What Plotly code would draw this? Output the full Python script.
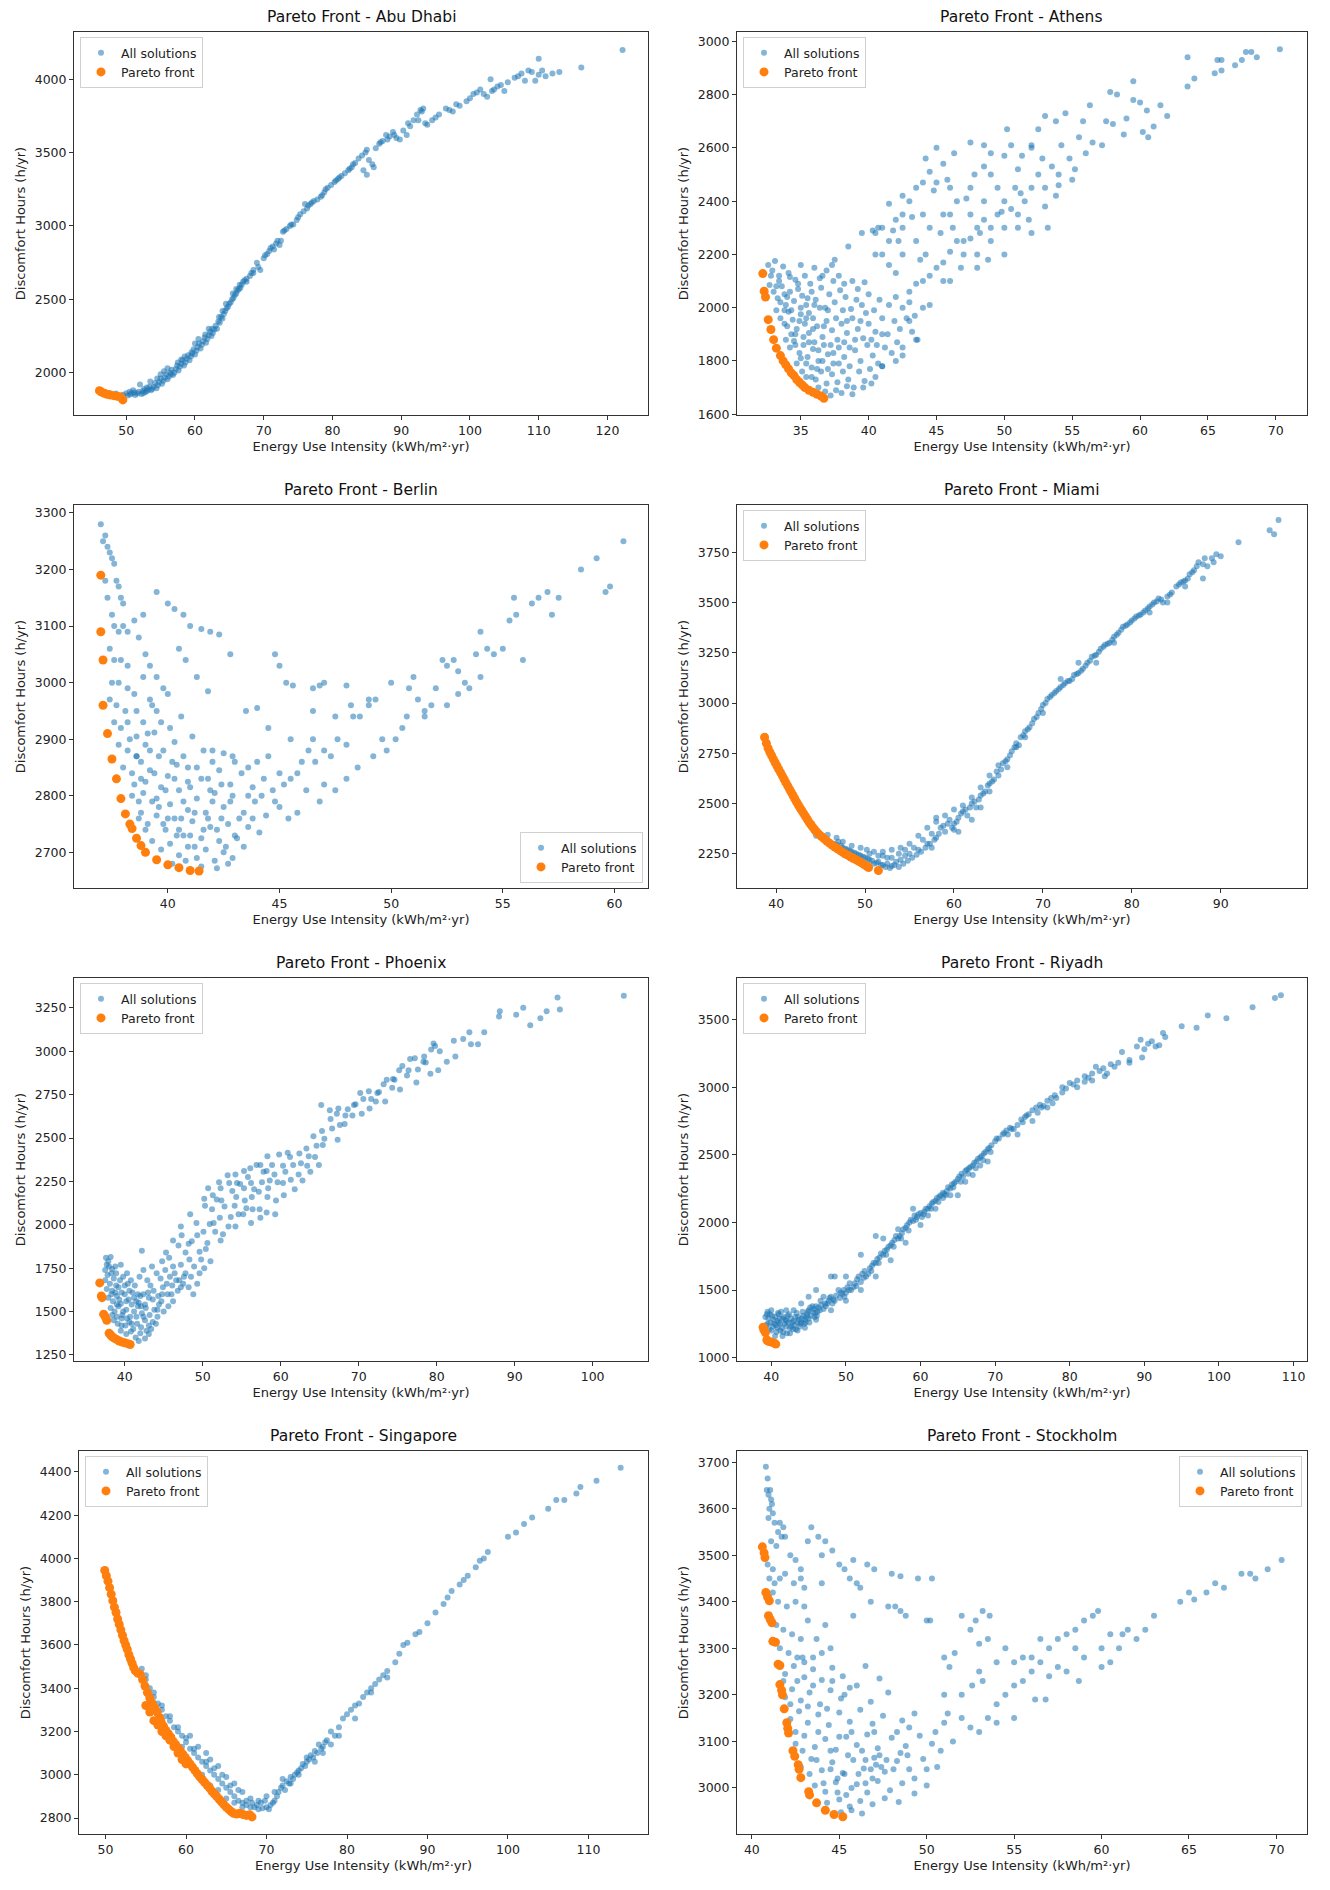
import plotly.graph_objects as go

# ---------------- DATA ----------------
cities = ["Abu Dhabi", "Athens", "Berlin", "Miami", "Phoenix", "Riyadh", "Singapore", "Stockholm"]

abu_dhabi_all = [
    (46.5,1872),(47.5,1862),(48.5,1858),(49.5,1850),(50.2,1845),(50.8,1860),(51.3,1848),(51.8,1870),(52.2,1855),(52.6,1890),
    (53.0,1875),(53.4,1905),(53.8,1890),(54.2,1930),(54.6,1915),(55.0,1960),(55.4,1945),(55.8,1990),(56.2,1975),(56.6,2020),
    (57.0,2000),(57.4,2050),(57.8,2040),(58.2,2085),(58.6,2070),(59.0,2120),(59.4,2110),(59.8,2160),(60.2,2150),(60.6,2200),
    (61.0,2190),(61.4,2240),(61.8,2230),(62.2,2280),(62.6,2270),(63.0,2320),(63.4,2350),(63.8,2380),(64.2,2400),(64.6,2440),
    (65.0,2470),(65.4,2500),(65.8,2530),(66.2,2560),(66.6,2580),(67.0,2620),(67.5,2640),(68.0,2660),(68.5,2700),(69.0,2750),
    (69.5,2700),(70.2,2800),(70.8,2830),(71.3,2860),(71.8,2880),(72.3,2870),(72.8,2960),(73.3,2980),(73.8,3000),(74.3,3010),
    (74.8,3040),(75.3,3080),(75.8,3100),(76.3,3120),(76.8,3150),(77.3,3170),(77.8,3180),(78.3,3200),(78.8,3230),(79.3,3260),
    (79.8,3280),(80.3,3300),(80.8,3320),(81.3,3340),(81.8,3360),(82.3,3380),(82.8,3400),(83.3,3430),(83.8,3460),(84.3,3480),
    (84.8,3500),(85.3,3450),(85.8,3420),(86.3,3530),(86.8,3560),(87.3,3580),(87.8,3620),(88.3,3610),(88.8,3640),(89.3,3600),
    (89.8,3590),(90.3,3650),(90.8,3620),(91.3,3680),(91.8,3720),(92.3,3760),(92.8,3790),(93.2,3800),(93.5,3700),(94.5,3720),
    (95.5,3760),(96.5,3800),(97.5,3780),(98.5,3820),(99.5,3850),(100.5,3900),(101.5,3930),(102.5,3880),(103.0,4000),(103.5,3930),
    (104.5,3960),(105.5,3980),(106.5,4010),(107.5,4040),(108.5,4060),(109.5,3990),(110.0,4030),(110.0,4140),(111.0,4020),
    (112.0,4040),(113.0,4050),(116.2,4080),(122.2,4200),(84.5,3380),(85.0,3350),(86.0,3400),(71.5,2840),(76.0,3150),
    (52.0,1920),(53.5,1940),(54.5,1960),(55.5,2010),(56.5,1990),(57.5,2070),(58.5,2110),(59.5,2140),(60.5,2230),(61.5,2260),
    (62.5,2300),(63.5,2380),(64.5,2470),(65.5,2540),(66.5,2600),(67.5,2620),(50.5,1870),(51.0,1880),(52.5,1860),(53.0,1900),
    (55.0,1990),(56.0,2030),(58.0,2090),(60.0,2200),(62.0,2300),(64.0,2420),(66.0,2570),(68.5,2680),(70.0,2780),(72.0,2900),
    (74.0,3010),(76.5,3140),(78.5,3210),(80.5,3310),(82.5,3390),(88.0,3590),
    (50.0,1860),(50.6,1852),(51.2,1865),(51.6,1858),(52.4,1875),(52.8,1868),(53.2,1885),(53.6,1880),(54.0,1905),(54.4,1895),
    (54.8,1935),(55.2,1925),(55.6,1965),(56.0,1955),(56.4,2000),(56.8,1985),(57.2,2025),(57.6,2015),(58.0,2060),(58.4,2050),
    (58.8,2095),(59.2,2085),(59.6,2130),(60.0,2125),(60.4,2175),(60.8,2165),(61.2,2215),(61.6,2205),(62.0,2255),(62.4,2250),
    (62.8,2295),(63.2,2300),(63.6,2340),(64.0,2370),(64.4,2420),(64.8,2450),(65.2,2480),(65.6,2510),(66.0,2540),(66.4,2570),
    (66.8,2600),(67.2,2630),(68.2,2680),(69.2,2720),(70.5,2810),(71.0,2850),(72.5,2900),(73.0,2970),(75.0,3060),(77.0,3160),
    (79.0,3250),(81.0,3330),(83.0,3420),(85.0,3520),(87.0,3570),(89.0,3620),(91.0,3700),(93.0,3780),(92.5,3720),(93.8,3690),
    (95.0,3740),(97.0,3790),(98.0,3830),(100.0,3870),(101.0,3910),(102.0,3900),(103.2,3920),(104.0,3950),(105.0,3920),
    (107.0,4020),(108.0,3990),(109.0,4050),(110.5,4060),
]
abu_dhabi_pareto = [(46.1,1878),(46.4,1868),(46.8,1860),(47.2,1853),(47.7,1848),(48.2,1844),(48.7,1840),(49.2,1835),(49.5,1815)]

athens_all = [
    (32.6,2160),(32.9,2140),(33.1,2175),(33.4,2120),(33.7,2155),(34.1,2130),(34.6,2105),(35.0,2160),(35.3,2120),(35.7,2090),
    (36.0,2150),(36.4,2110),(36.9,2140),(37.3,2160),(37.8,2120),(38.2,2090),(38.8,2100),(39.2,2070),(39.7,2095),
    (32.7,2085),(33.0,2060),(33.3,2035),(33.6,2080),(33.9,2010),(34.2,2060),(34.5,2025),(34.8,2070),(35.1,2045),(35.4,2010),
    (35.8,2060),(36.1,2030),(36.5,2075),(36.8,2000),(37.1,2050),(37.5,2020),(37.9,2065),(38.3,2040),(38.7,1995),(39.1,2030),
    (39.5,2010),(40.0,2050),(40.4,1990),(40.8,2030),
    (33.2,1990),(33.5,1960),(33.8,1940),(34.1,1985),(34.4,1955),(34.7,1920),(35.0,1975),(35.3,1940),(35.6,1905),(35.9,1960),
    (36.2,1930),(36.6,1890),(36.9,1950),(37.3,1915),(37.7,1880),(38.0,1940),(38.4,1905),(38.8,1960),(39.2,1920),(39.6,1885),
    (40.0,1940),(40.5,1910),(41.0,1960),(41.4,1900),(41.9,1950),(42.3,1920),(42.8,1960),(43.2,1910),(43.6,1880),
    (33.9,1880),(34.2,1850),(34.5,1875),(34.9,1830),(35.2,1860),(35.5,1815),(35.9,1845),(36.3,1800),(36.7,1860),(37.0,1825),
    (37.4,1790),(37.8,1850),(38.2,1815),(38.6,1780),(39.0,1840),(39.4,1800),(39.9,1860),(40.3,1820),(40.7,1790),(41.2,1850),
    (41.7,1830),(42.1,1870),(42.5,1820),
    (34.7,1790),(35.1,1760),(35.4,1740),(35.8,1775),(36.1,1730),(36.5,1760),(36.9,1715),(37.3,1750),(37.7,1720),(38.1,1760),
    (38.5,1730),(38.9,1700),(39.3,1760),(39.7,1725),(40.1,1770),(40.5,1740),(41.0,1780),
    (36.3,1700),(36.8,1685),(37.2,1670),(37.6,1690),(38.0,1680),(38.4,1705),(38.8,1675),(39.6,1700),(40.2,1715),
    (33.4,2100),(34.0,2040),(34.3,1990),(34.9,1950),(35.2,1890),(35.6,1980),(36.0,1870),(36.4,2000),(35.0,2000),(34.6,1900),
    (33.8,2050),(36.7,1930),(37.2,1860),(35.9,1920),(35.5,2035),(34.2,2115),(37.6,1960),(38.1,1990),
    (32.8,2120),(33.2,2080),(33.5,2020),(33.8,1990),(34.0,1930),(34.3,1900),(34.6,1860),(35.0,1810),(35.4,1790),(35.8,1740),
    (36.2,1770),(36.6,1800),(37.0,1770),(37.4,1830),(37.8,1790),(38.2,1870),(38.6,1850),(39.0,1880),(39.4,1950),(39.8,1980),
    (40.2,1880),(40.6,1860),(41.0,1900),(41.5,2010),(42.0,2040),(42.5,2000),(43.0,2020),(43.4,1970),(36.0,2010),(35.4,1960),
    (34.8,2090),(36.6,2120),(37.4,2100),(38.4,1950),(37.0,1990),(36.3,1840),(35.6,1870),
    (37.5,2180),(38.5,2230),(39.5,2280),(40.3,2290),(40.7,2300),(41.0,2300),(41.5,2390),(42.0,2330),(42.5,2420),(43.0,2400),
    (43.5,2450),(44.0,2470),(44.5,2510),(45.0,2470),(45.5,2540),(46.3,2580),(47.5,2620),(48.5,2610),(49.0,2580),(50.2,2670),
    (50.5,2610),(51.3,2570),(52.0,2610),(52.5,2670),(53.0,2720),(53.8,2700),(54.5,2730),(55.5,2640),(56.3,2760),(57.8,2810),
    (58.3,2800),(59.5,2850),(59.5,2780),(60.0,2770),(60.5,2740),(61.5,2760),(60.6,2640),(61.0,2680),(57.2,2610),(55.2,2520),
    (54.0,2500),(56.0,2580),(58.0,2690),(59.0,2710),(63.5,2940),(63.5,2830),(64.0,2860),(65.5,2880),(65.7,2930),(66.0,2930),
    (66.0,2890),(67.0,2910),(67.5,2930),(67.8,2960),(68.2,2960),(68.6,2940),(70.3,2970),
    (41.0,2200),(41.5,2160),(42.0,2130),(42.5,2200),(43.0,2060),(43.5,2090),(44.0,2100),(44.5,2120),(45.0,2150),(45.5,2170),
    (46.0,2210),(46.5,2250),(47.0,2200),(47.5,2260),(48.0,2300),(48.5,2330),(49.0,2300),(49.5,2350),(50.0,2400),(50.5,2370),
    (51.0,2350),(51.5,2400),(52.0,2450),(52.5,2500),(53.0,2450),(53.5,2530),(54.0,2460),(46.0,2100),(47.0,2250),(48.0,2200),
    (49.0,2250),(50.0,2300),(51.0,2300),(49.5,2450),(48.5,2400),(47.5,2350),(46.5,2400),(45.5,2350),(44.5,2300),(43.5,2250),
    (42.5,2300),(41.5,2250),(40.5,2200),(44.0,2000),(44.5,2010),(43.0,1950),(43.5,1880),(42.0,1800),(41.0,1780),(42.5,1850),
    (45.5,2100),(47.5,2450),(49.0,2500),(51.0,2520),(53.0,2380),(55.0,2480),(52.0,2280),(50.0,2200),(48.0,2150),(46.0,2350),
    (44.0,2350),(42.5,2350),(45.0,2600),(46.0,2450),(48.5,2530),(50.0,2570),(52.0,2600),
    (40.5,2280),(41.8,2290),(42.2,2250),(43.2,2340),(43.8,2180),(44.2,2200),(44.8,2440),(45.3,2280),(46.2,2300),(46.8,2150),
    (47.2,2410),(48.2,2280),(48.8,2180),(49.8,2360),(50.8,2450),(51.8,2330),(52.8,2560),(53.2,2300),(53.8,2420),(54.8,2560),
    (56.5,2620),(57.5,2700),(58.8,2650),(60.2,2660),(62.0,2720),(55.8,2700),(54.2,2610),(51.2,2430),(47.8,2500),(45.8,2480),
    (44.2,2560),
]
athens_pareto = [(32.2,2128),(32.3,2062),(32.4,2040),(32.6,1955),(32.8,1918),(33.0,1880),(33.2,1848),(33.5,1820),(33.7,1800),
    (33.9,1785),(34.1,1770),(34.3,1755),(34.5,1745),(34.7,1730),(34.9,1720),(35.1,1710),(35.3,1700),(35.6,1690),(35.9,1682),
    (36.2,1675),(36.5,1668),(36.7,1660)]

berlin_all = [
    (37.0,3280),(37.1,3250),(37.2,3260),(37.3,3240),(37.4,3230),(37.5,3220),(37.6,3210),(37.7,3180),(37.8,3170),(37.9,3150),
    (38.0,3140),(37.2,3180),(37.3,3150),(37.5,3120),(37.6,3100),(37.8,3090),(38.0,3100),(38.2,3090),(37.4,3060),(37.6,3040),
    (37.9,3040),(38.2,3030),(37.5,3000),(37.8,3000),(38.2,2990),(38.5,2980),(37.4,2970),(37.7,2960),(38.1,2950),(37.6,2930),
    (37.9,2920),(38.2,2930),(37.8,2890),(38.2,2880),(38.6,2870),(38.0,2850),(38.4,2840),(38.8,2830),
    (38.9,3120),(39.5,3160),(40.0,3140),(40.3,3130),(40.7,3120),(41.0,3100),(41.5,3095),(41.9,3090),(42.3,3085),(40.5,3060),
    (40.8,3040),(41.3,3010),(41.8,2985),(39.0,3050),(39.2,3030),(39.5,3010),(39.8,2990),(40.0,2980),(39.2,2970),(39.5,2950),
    (38.7,3080),(38.9,3010),(38.5,3110),(42.8,3050),(43.5,2950),(44.0,2955),(44.8,3050),(45.0,3030),(45.3,3000),(45.6,2995),
    (46.5,2990),(46.8,2995),(47.0,3000),(48.0,2995),
    (38.6,2905),(39.0,2890),(39.4,2912),(39.8,2880),(40.3,2895),(40.7,2870),(41.1,2905),(41.6,2880),(42.0,2860),(42.5,2875),
    (38.8,2860),(39.2,2845),(39.6,2870),(40.0,2835),(40.4,2855),(40.9,2825),(41.3,2850),(41.8,2830),(42.3,2845),(42.8,2820),
    (43.3,2840),(43.8,2815),(44.3,2830),
    (38.5,2820),(38.9,2805),(39.3,2790),(39.7,2815),(40.1,2785),(40.5,2810),(40.9,2775),(41.3,2795),(41.7,2770),(42.1,2805),
    (42.5,2780),(42.9,2800),(43.4,2770),(43.9,2790),(44.4,2765),
    (38.8,2770),(39.1,2750),(39.5,2765),(39.9,2740),(40.3,2760),(40.7,2730),(41.1,2755),(41.5,2725),(41.9,2745),(42.3,2720),
    (42.7,2750),(43.1,2725),(43.6,2745),(44.1,2735),
    (39.3,2720),(39.7,2705),(40.1,2715),(40.5,2695),(40.9,2710),(41.3,2690),(41.7,2705),(42.1,2685),(42.5,2700),(42.9,2690),
    (43.4,2710),(40.2,2680),(40.8,2685),(41.5,2675),(42.2,2672),(42.7,2680),
    (39.0,2825),(39.5,2795),(40.2,2860),(40.6,2760),(41.0,2815),(41.6,2740),(42.0,2790),(42.4,2760),(39.2,2880),(38.7,2790),
    (43.0,2860),(43.6,2800),(41.2,2710),(40.4,2730),(39.8,2750),
    (38.3,2900),(38.6,2950),(38.9,2930),(39.3,2960),(39.7,2930),(40.1,2920),(40.6,2940),(38.4,2800),(38.7,2760),(39.0,2740),
    (38.6,2870),(39.1,2910),(39.4,2840),(39.9,2810),(40.3,2830),(40.7,2790),(41.2,2770),(41.5,2830),(41.9,2810),(42.4,2820),
    (42.8,2790),(43.2,2760),(43.8,2760),(44.2,2800),(44.7,2810),(40.0,2760),(40.5,2740),(41.0,2730),(41.8,2760),(42.2,2740),
    (42.6,2710),(43.0,2730),(39.6,2780),(40.9,2850),(42.0,2880),(42.9,2870),(43.6,2850),(44.0,2860),
    (44.5,2870),(45.0,2840),(45.2,2820),(45.5,2830),(45.8,2840),(46.0,2860),(46.3,2880),(46.6,2860),(47.0,2880),(47.3,2870),
    (47.6,2900),(48.0,2890),(48.3,2940),(48.6,2940),(49.0,2960),(49.3,2970),(49.6,2900),(49.8,2880),(46.5,2950),(47.5,2940),
    (48.2,2960),(48.0,2830),(48.5,2850),(49.2,2870),(47.0,2820),(46.2,2810),(47.5,2810),(45.0,2780),(45.4,2760),(46.8,2790),
    (44.8,2790),(45.8,2770),(46.5,2900),(45.5,2900),(44.5,2920),
    (50.0,3000),(50.5,2920),(50.8,2990),(51.2,2970),(51.5,2950),(51.8,2960),(52.0,2990),(52.3,3040),(52.5,3030),(52.8,3040),
    (53.0,3020),(53.3,3000),(53.5,2990),(53.8,3050),(54.0,3090),(54.3,3060),(54.6,3050),(55.0,3060),(55.3,3110),(55.5,3150),
    (55.6,3120),(55.9,3040),(56.3,3140),(56.6,3150),(57.0,3160),(57.2,3120),(57.5,3150),(58.5,3200),(59.2,3220),(59.6,3160),
    (59.8,3170),(60.4,3250),(51.0,3010),(52.5,2960),(53.0,2980),(54.0,3010),(50.7,2940),(51.5,2940),(49.0,2970),(50.2,2900),
]
berlin_pareto = [(37.0,3190),(37.0,3090),(37.1,3040),(37.1,2960),(37.3,2910),(37.5,2865),(37.7,2830),(37.9,2795),(38.1,2768),
    (38.3,2750),(38.4,2742),(38.6,2725),(38.8,2712),(39.0,2700),(39.5,2687),(40.0,2678),(40.5,2673),(41.0,2668),(41.4,2667)]

miami_all = [
    (44.5,2340),(45.5,2320),(46.5,2300),(47.0,2310),(47.5,2280),(48.0,2270),(48.5,2260),(49.0,2250),(49.5,2240),(50.0,2230),
    (50.5,2220),(51.0,2200),(51.5,2210),(52.0,2195),(52.5,2200),(53.0,2190),(53.5,2210),(54.0,2220),(50.5,2250),(51.5,2240),
    (52.5,2230),(53.0,2270),(54.5,2240),(55.0,2250),(55.5,2280),(55.0,2300),(56.0,2270),(56.5,2320),(57.0,2300),(57.5,2350),
    (58.0,2330),(58.5,2380),(58.0,2410),(59.0,2360),(59.5,2420),(60.0,2400),(60.5,2430),(60.0,2370),(61.0,2460),(61.5,2440),
    (62.0,2500),(62.5,2480),(63.0,2540),(63.5,2560),(64.0,2600),(64.5,2620),(65.0,2640),(65.5,2700),(66.0,2720),(66.5,2760),
    (67.0,2800),(67.5,2830),(68.0,2860),(68.5,2880),(69.0,2920),(69.5,2950),(70.0,2990),(70.5,3020),(71.0,3040),(71.5,3060),
    (72.0,3080),(72.5,3100),(73.0,3110),(73.5,3140),(74.0,3150),(74.5,3170),(75.0,3200),(75.5,3230),(76.0,3240),(76.5,3270),
    (77.0,3290),(77.5,3300),(78.0,3330),(78.5,3350),(79.0,3380),(79.5,3390),(80.0,3410),(80.5,3430),(81.0,3440),(81.5,3460),
    (82.0,3480),(82.5,3500),(83.0,3520),(83.5,3500),(84.0,3530),(84.5,3550),(85.0,3580),(85.5,3600),(86.0,3610),(86.5,3640),
    (87.0,3660),(87.5,3700),(88.0,3690),(88.5,3680),(89.0,3720),(89.5,3740),(92.0,3800),(95.5,3860),(96.0,3840),(96.5,3910),
    (56.0,2340),(57.0,2380),(58.0,2430),(59.0,2440),(60.0,2470),(61.0,2490),(62.0,2530),(63.0,2580),(64.0,2640),(65.0,2690),
    (66.0,2680),(67.0,2780),(68.0,2830),(62.0,2420),(63.0,2480),(64.0,2560),(60.5,2360),(57.5,2280),(54.0,2280),(52.0,2260),
    (70.0,2950),(72.0,3120),(74.0,3200),(76.0,3200),(78.0,3300),(82.0,3450),(84.0,3500),(86.0,3580),(88.0,3620),
    (46.0,2310),(46.8,2295),(47.3,2290),(47.8,2275),(48.3,2265),(48.8,2255),(49.3,2245),(49.8,2235),(50.3,2225),(50.8,2215),
    (51.3,2205),(51.8,2195),(52.3,2185),(52.8,2180),(53.3,2195),(53.8,2185),(54.3,2200),(54.8,2215),(55.3,2230),(55.8,2245),
    (56.3,2260),(56.8,2280),(57.3,2300),(57.8,2320),(58.3,2350),(58.8,2390),(59.3,2400),(59.8,2380),(60.3,2410),(60.8,2450),
    (61.3,2470),(61.8,2480),(62.3,2510),(62.8,2520),(63.3,2550),(63.8,2590),(64.3,2610),(64.8,2660),(65.3,2670),(65.8,2710),
    (66.3,2740),(66.8,2780),(67.3,2790),(67.8,2840),(68.3,2870),(68.8,2900),(69.3,2930),(69.8,2970),(70.3,3000),(70.8,3030),
    (71.3,3050),(71.8,3070),(72.3,3090),(72.8,3110),(73.3,3120),(73.8,3145),(74.3,3160),(74.8,3185),(75.3,3210),(75.8,3235),
    (76.3,3255),(76.8,3280),(77.3,3295),(77.8,3315),(78.3,3340),(78.8,3365),(79.3,3385),(79.8,3400),(80.3,3420),(80.8,3435),
    (81.3,3450),(81.8,3470),(82.3,3490),(82.8,3505),(83.3,3515),(84.3,3540),(85.3,3590),(85.8,3605),(86.3,3620),(86.8,3650),
    (87.3,3680),(88.2,3720),(89.2,3700),(90.0,3730),
    (50.2,2270),(51.0,2260),(52.0,2240),(53.0,2230),(53.8,2250),(54.5,2270),(49.5,2280),(48.5,2290),(47.5,2310),(46.8,2330),
    (45.8,2345),
]
miami_pareto = [
    (38.7,2830),(38.9,2800),(39.1,2775),(39.3,2755),(39.5,2738),(39.7,2720),(39.9,2703),(40.1,2687),(40.3,2670),(40.5,2654),
    (40.7,2638),(40.9,2621),(41.1,2604),(41.3,2588),(41.5,2572),(41.7,2556),(41.9,2540),(42.1,2524),(42.3,2508),(42.5,2493),
    (42.7,2478),(42.9,2464),(43.1,2450),(43.3,2436),(43.5,2422),(43.7,2408),(43.9,2396),(44.1,2384),(44.3,2372),(44.5,2361),
    (44.8,2348),(45.1,2336),(45.4,2325),(45.7,2314),(46.0,2303),(46.3,2293),(46.6,2284),(46.9,2275),(47.2,2266),(47.5,2257),
    (47.8,2249),(48.1,2242),(48.4,2234),(48.7,2227),(49.0,2220),(49.3,2213),(49.6,2205),(49.9,2196),(50.2,2188),(50.4,2182),
    (51.5,2167),
]

phoenix_all = [
    (37.6,1810),(37.9,1790),(38.2,1815),(38.0,1760),(37.5,1740),(38.4,1745),(37.8,1710),(38.6,1690),(37.5,1680),(38.1,1660),
    (38.9,1650),(37.7,1630),(38.4,1620),(39.2,1640),(39.8,1700),(40.3,1720),(40.8,1680),(41.3,1650),(41.9,1700),(42.4,1740),
    (42.9,1680),(43.5,1760),(44.1,1720),(44.6,1690),(45.2,1740),(45.8,1700),(46.4,1720),(47.0,1680),(47.6,1700),
    (37.9,1580),(38.5,1560),(39.0,1590),(39.5,1545),(40.0,1600),(40.5,1570),(41.0,1610),(41.5,1560),(42.0,1590),(42.6,1540),
    (43.1,1580),(43.7,1620),(44.3,1590),(44.9,1640),(45.5,1600),(46.1,1650),(46.8,1620),(47.5,1660),(48.2,1640),(48.8,1600),
    (38.2,1520),(38.7,1500),(39.2,1530),(39.7,1480),(40.2,1510),(40.7,1470),(41.2,1500),(41.7,1530),(42.2,1490),(42.7,1520),
    (43.2,1480),(43.8,1510),(44.4,1540),(45.0,1500),(45.6,1530),(46.2,1560),
    (38.6,1450),(39.1,1430),(39.6,1460),(40.1,1420),(40.6,1440),(41.1,1400),(41.6,1430),(42.1,1410),(42.6,1450),(43.1,1420),
    (43.6,1440),(44.2,1470),(39.5,1390),(40.2,1370),(40.8,1385),(41.4,1350),(42.0,1375),(42.6,1345),(43.1,1370),(41.8,1330),
    (42.2,1850),(44.8,1790),(45.7,1810),(46.9,1880),(47.8,1840),(48.9,1760),(49.6,1720),(49.3,1660),(47.2,1770),(46.2,1760),
    (48.3,1800),(50.2,1750),(51.0,1790),(49.8,1800),(48.5,1700),(39.3,1570),(40.4,1660),(41.7,1600),(43.3,1650),(44.7,1560),
    (42.4,1470),(40.9,1540),(39.8,1500),(38.3,1600),(38.8,1760),(39.5,1770),
    (37.7,1770),(38.3,1720),(38.9,1720),(39.4,1680),(40.0,1650),(40.6,1620),(41.2,1580),(41.8,1550),(42.4,1600),(43.0,1610),
    (43.6,1570),(44.2,1510),(44.8,1600),(45.4,1660),(46.0,1600),(46.6,1680),(47.2,1640),(47.8,1720),(38.4,1480),(39.0,1470),
    (39.6,1420),(40.3,1460),(40.9,1430),(41.5,1470),(42.1,1530),(42.8,1390),(43.4,1400),(44.0,1430),(39.0,1540),(40.2,1560),
    (38.8,1610),(39.6,1610),
    (50.2,2150),(50.7,2210),(51.3,2170),(52.1,2245),(53.2,2285),(54.4,2240),(55.3,2310),(56.1,2325),(57.4,2345),(58.3,2395),
    (50.4,1860),(52.3,1910),(54.2,1990),(56.4,2090),(58.3,2160),(60.3,2240),
    (47.2,1990),(48.4,2060),(49.3,1940),(50.1,1960),(51.4,2010),(52.2,2040),(53.3,1990),(54.1,2110),(55.4,2140),(56.3,2160),
    (57.2,2190),(58.4,2210),(59.2,2290),(60.3,2340),(61.2,2390),(62.4,2410),(63.3,2440),(64.2,2510),(65.3,2540),(66.4,2610),
    (67.2,2640),(68.3,2630),(69.4,2690),(70.2,2760),(71.3,2770),(72.4,2760),(73.2,2810),(74.4,2840),(75.2,2890),(76.4,2890),
    (77.2,2960),(78.4,2970),(79.3,3010),(80.2,2890),(79.8,3030),(81.3,2940),(82.2,3060),(83.4,3070),(84.2,3110),(85.3,3040),
    (86.1,3110),(88.0,3200),(88.1,3230),(90.2,3210),(91.1,3250),(92.0,3150),(93.3,3190),(94.1,3230),(95.5,3310),(95.8,3240),
    (104.0,3320),
    (60.4,2170),(62.3,2290),(64.4,2390),(65.2,2690),(66.3,2660),(67.4,2670),(68.2,2580),(70.4,2640),(72.2,2710),(74.3,2790),
    (76.2,2860),(78.3,2940),(80.4,3000),(82.4,2970),(84.4,3040),(58.2,2310),(56.2,2240),(54.3,2160),(52.4,2140),(55.2,2060),
    (57.3,2090),(59.4,2140),(61.3,2260),(63.4,2340),(65.4,2460),(67.3,2490),(69.2,2630),(71.4,2670),(73.4,2710),(75.3,2780),
    (77.4,2820),(79.2,2870),(47.3,1940),(46.2,1910),(45.3,1840),(48.2,1890),(49.2,2010),(50.3,2110),(51.2,2090),(52.3,2210),
    (53.4,2240),(54.2,2290),(55.3,2210),(56.2,2010),(57.4,2040),(58.2,2070),(59.3,2060),
    (48.6,1905),(49.6,1845),(50.6,1895),(51.6,1960),(52.6,1945),(53.6,2045),(54.6,2060),(55.6,2095),(56.6,2205),(57.6,2245),
    (58.6,2255),(59.6,2245),(60.6,2305),(61.6,2345),(62.6,2355),(63.6,2395),(64.6,2455),(65.6,2495),(66.6,2555),(67.6,2575),
    (68.6,2665),(69.6,2695),(70.6,2725),(71.6,2725),(72.6,2765),(73.6,2835),(74.6,2835),(75.6,2915),(76.6,2955),(77.6,2895),
    (78.6,2935),(79.6,3045),(50.9,2005),(51.8,2145),(52.8,2105),(53.8,2195),(54.8,2235),(55.8,2275),(56.9,2345),(57.8,2305),
    (58.9,2345),(59.8,2405),(60.9,2415),(61.8,2205),(62.8,2255),(63.8,2305),(64.9,2345),
]
phoenix_pareto = [(36.8,1665),(37.0,1590),(37.1,1580),(37.3,1485),(37.5,1470),(37.7,1450),(38.0,1375),(38.2,1365),(38.4,1355),
    (38.7,1345),(39.0,1338),(39.3,1330),(39.6,1325),(40.0,1320),(40.4,1315),(40.7,1310)]

riyadh_all = [
    (39.2,1300),(39.5,1250),(39.8,1320),(40.0,1200),(40.3,1280),(40.6,1240),(40.9,1330),(41.2,1200),(41.5,1290),(41.8,1250),
    (42.1,1180),(42.4,1320),(42.7,1230),(43.0,1270),(43.3,1210),(43.6,1300),(43.9,1250),(44.2,1340),(44.5,1280),(44.8,1320),
    (45.1,1260),(45.5,1380),(45.8,1300),(46.2,1340),(46.6,1420),(47.0,1360),(47.5,1400),(48.0,1450),(48.5,1420),(49.0,1500),
    (49.5,1470),(50.0,1480),(50.5,1550),(51.0,1520),(51.5,1580),(52.0,1560),(52.5,1640),(53.0,1620),(53.5,1680),(54.0,1700),
    (54.5,1740),(55.0,1760),(55.5,1800),(56.0,1830),(56.5,1870),(57.0,1880),(57.5,1920),(58.0,1960),(58.5,2000),(59.0,2010),
    (59.5,2040),(60.0,2070),(60.5,2080),(61.0,2100),(61.5,2140),(62.0,2160),(62.5,2190),(63.0,2220),(63.5,2230),(64.0,2250),
    (64.5,2290),(65.0,2320),(65.5,2360),(66.0,2380),(66.5,2400),(67.0,2420),(67.5,2450),(68.0,2480),(68.5,2510),(69.0,2540),
    (69.5,2570),(70.0,2600),(70.5,2620),(71.0,2650),(71.5,2680),(72.0,2700),(72.5,2690),(73.0,2720),(73.5,2760),(74.0,2780),
    (74.5,2800),(75.0,2830),(75.5,2850),(76.0,2870),(76.5,2860),(77.0,2900),(77.5,2920),(78.0,2940),(79.0,2960),(80.0,3030),
    (81.0,3050),(82.0,3080),(83.0,3100),(83.5,3150),(84.0,3120),(85.0,3100),(85.5,3170),(87.0,3260),(88.0,3200),(89.0,3300),
    (89.5,3350),(90.0,3280),(91.0,3340),(92.0,3310),(92.5,3400),(92.8,3370),(95.0,3450),(97.0,3440),(98.5,3530),(101.0,3510),
    (104.5,3590),(107.5,3660),(108.3,3680),
    (54.0,1900),(55.0,1880),(52.0,1760),(50.0,1600),(48.0,1600),(46.0,1500),(45.0,1450),(44.0,1400),(43.0,1350),(42.0,1350),
    (41.0,1320),(40.0,1350),(39.5,1340),(40.5,1160),(41.5,1160),(42.5,1180),(43.5,1200),(44.5,1220),(46.0,1280),(48.0,1350),
    (50.0,1420),(52.0,1500),(54.0,1600),(56.0,1720),(58.0,1850),(60.0,1980),(62.0,2100),(64.0,2200),(66.0,2300),(68.0,2420),
    (57.0,1950),(59.0,2100),(61.0,2050),(63.0,2180),(65.0,2200),(67.0,2350),(69.0,2450),(73.0,2650),(75.0,2750),(77.0,2850),
    (79.0,3000),(81.0,3000),(83.0,3050),(86.0,3150),(88.0,3180),(48.5,1600),(47.0,1450),(46.0,1380),(45.0,1350),(41.2,1250),
    (42.0,1270),(39.3,1180),(40.8,1220),
    (39.3,1240),(39.6,1290),(39.9,1260),(40.2,1230),(40.5,1300),(40.8,1270),(41.1,1290),(41.4,1220),(41.7,1300),(42.0,1230),
    (42.3,1260),(42.6,1290),(42.9,1210),(43.2,1300),(43.5,1260),(43.8,1230),(44.1,1290),(44.4,1250),(44.7,1300),(45.0,1290),
    (45.3,1310),(45.6,1340),(45.9,1330),(46.3,1370),(46.7,1390),(47.2,1400),(47.7,1420),(48.2,1400),(48.7,1460),(49.2,1440),
    (49.7,1500),(50.2,1520),(50.7,1500),(51.2,1550),(51.7,1600),(52.2,1620),(52.7,1600),(53.2,1660),(53.7,1700),(54.2,1730),
    (54.7,1770),(55.2,1790),(55.7,1820),(56.2,1850),(56.7,1900),(57.2,1900),(57.7,1950),(58.2,1980),(58.7,2020),(59.2,2050),
    (59.7,2060),(60.2,2040),(60.7,2100),(61.2,2120),(61.7,2150),(62.2,2180),(62.7,2200),(63.2,2210),(63.7,2260),(64.2,2280),
    (64.7,2300),(65.2,2340),(65.7,2340),(66.2,2390),(66.7,2410),(67.2,2440),(67.7,2470),(68.2,2490),(68.7,2520),(69.2,2550),
    (70.2,2620),(71.2,2660),(72.2,2690),(74.2,2790),(76.2,2850),(78.2,2920),(80.5,3020),(82.5,3070),(84.5,3140),(90.5,3320),
    (39.4,1320),(39.7,1210),(40.1,1310),(40.4,1250),(40.7,1190),(41.0,1260),(41.3,1340),(41.6,1190),(41.9,1280),(42.2,1310),
    (42.5,1220),(42.8,1260),(43.1,1240),(43.4,1330),(43.7,1280),(44.0,1260),(44.3,1310),(44.6,1260),(44.9,1340),(45.2,1370),
    (45.7,1360),(46.1,1310),(46.5,1350),(47.3,1380),(47.8,1440),(48.3,1430),(49.3,1480),(49.8,1450),(50.4,1500),(51.4,1530),
    (52.4,1590),(53.4,1640),(54.4,1700),(55.4,1760),(56.4,1820),(57.4,1880),(58.4,1940),(59.4,2020),(60.4,2060),(61.4,2100),
    (62.4,2150),(63.4,2200),(64.4,2260),(65.4,2300),(66.4,2360),(67.4,2400),(68.4,2460),(69.4,2520),(71.7,2650),(73.7,2740),
    (75.7,2810),(77.7,2880),(79.5,2990),(82.0,3040),(84.7,3080),(86.5,3180),(89.7,3220),(91.5,3300),
]
riyadh_pareto = [(38.9,1225),(39.0,1205),(39.2,1185),(39.4,1130),(39.6,1120),(40.0,1115),(40.3,1110),(40.6,1100)]

singapore_all = [
    (54.5,3490),(55.0,3440),(55.5,3400),(56.0,3360),(56.5,3330),(57.0,3300),(57.5,3270),(58.0,3250),(58.5,3220),(59.0,3200),
    (59.5,3180),(60.0,3150),(60.5,3120),(61.0,3100),(61.5,3080),(62.0,3060),(62.5,3040),(63.0,3020),(63.5,3000),(64.0,2980),
    (64.5,2960),(65.0,2940),(65.5,2920),(66.0,2900),(66.5,2880),(67.0,2870),(67.5,2860),(68.0,2850),(68.5,2850),(69.0,2840),
    (69.5,2845),(70.0,2850),(70.5,2860),(59.5,3130),(60.5,3180),(61.5,3130),(62.5,3100),(63.0,3070),(64.0,3040),(65.0,2990),
    (66.0,2960),(67.0,2920),(68.0,2890),(69.0,2880),(70.0,2900),(71.0,2880),(71.5,2920),(72.0,2950),(72.5,2970),(73.0,2990),
    (73.5,3000),(74.0,3020),(74.5,3050),(75.0,3060),(75.5,3090),(76.0,3110),(76.5,3140),(77.0,3130),(77.5,3160),(78.0,3200),
    (78.5,3180),(79.0,3220),(79.5,3260),(80.0,3280),(80.5,3300),(81.0,3320),(81.5,3330),(82.0,3360),(82.5,3380),(83.0,3400),
    (83.5,3420),(84.0,3440),(84.5,3460),(85.0,3480),(86.0,3520),(86.5,3560),(87.0,3600),(87.5,3610),(88.5,3650),(89.0,3660),
    (90.0,3700),(91.0,3750),(92.0,3790),(92.5,3820),(93.0,3850),(94.0,3880),(94.5,3900),(95.0,3920),(96.0,3960),(96.5,3990),
    (97.0,4000),(97.5,4030),(100.0,4100),(101.0,4120),(102.0,4160),(103.0,4190),(105.0,4230),(106.0,4270),(107.0,4270),
    (108.5,4300),(109.0,4330),(111.0,4360),(114.0,4420),(71.0,2920),(72.0,2980),(73.0,2960),(74.0,3000),(75.0,3080),
    (76.0,3060),(77.0,3100),(79.0,3180),(81.0,3260),(83.0,3380),(85.0,3450),(78.0,3140),(62.0,3000),(63.0,2950),(64.0,2930),
    (65.0,2890),(66.0,2870),(67.0,2850),
    (67.5,2880),(68.2,2870),(68.8,2860),(69.3,2870),(69.8,2880),(70.3,2840),(70.8,2870),(71.3,2900),(71.8,2940),(72.3,2930),
    (72.8,2960),(73.3,2980),(73.8,3010),(74.3,3030),(74.8,3040),(75.3,3070),(75.8,3080),(76.3,3100),(76.8,3120),(77.3,3150),
    (65.5,2950),(66.5,2930),(64.5,3000),(63.5,3030),(62.5,3060),(61.0,3120),(60.0,3170),(59.0,3220),(58.0,3270),(57.0,3320),
    (56.0,3380),(55.0,3460),
]
singapore_pareto = [
    (49.9,3945),(50.1,3920),(50.3,3895),(50.5,3865),(50.7,3835),(50.9,3805),(51.1,3775),(51.3,3750),(51.5,3720),(51.7,3695),
    (51.9,3670),(52.1,3645),(52.3,3620),(52.5,3600),(52.7,3580),(52.9,3555),(53.1,3535),(53.3,3515),(53.5,3495),(53.7,3480),
    (54.0,3470),(54.3,3465),(54.6,3440),(54.9,3410),(55.2,3380),(55.5,3355),(55.8,3330),(56.1,3310),(56.4,3290),(56.7,3265),
    (56.9,3245),(57.2,3225),(57.5,3205),(57.8,3190),(58.1,3175),(58.4,3155),(58.7,3140),(59.0,3125),(59.3,3110),(59.6,3095),
    (59.9,3080),(60.2,3065),(60.5,3050),(60.8,3035),(61.1,3020),(61.4,3005),(61.7,2990),(62.0,2978),(62.3,2965),(62.6,2952),
    (62.9,2940),(63.2,2925),(63.5,2912),(63.8,2900),(64.1,2888),(64.4,2875),(64.7,2862),(65.0,2850),(65.3,2840),(65.6,2830),
    (65.9,2822),(66.3,2818),(66.7,2822),(67.1,2816),(67.5,2812),(67.9,2815),(68.2,2805),
    (56.0,3250),(56.5,3230),(57.0,3200),(57.5,3180),(58.0,3160),(58.5,3130),(59.0,3100),(55.5,3290),(55.0,3320),(59.5,3070),
    (60.0,3050),
]

stockholm_all = [
    (40.8,3690),(40.9,3665),(40.85,3640),(40.95,3630),(41.05,3640),(41.1,3620),(41.0,3600),(41.15,3610),(41.2,3590),(40.95,3580),
    (41.3,3570),(41.6,3570),(41.8,3560),(41.5,3550),(41.7,3540),(41.9,3540),(41.1,3530),(41.4,3520),(40.9,3480),(41.2,3470),
    (41.0,3450),(41.3,3440),(41.6,3450),(41.9,3460),(42.2,3500),(42.5,3490),(42.8,3470),(42.4,3440),(42.8,3450),(43.0,3430),
    (41.2,3420),(41.5,3400),(42.0,3390),(42.5,3400),(43.0,3390),(41.4,3350),(41.8,3340),(42.3,3330),(42.8,3320),(41.6,3300),
    (42.1,3290),(42.6,3280),(43.0,3270),(43.5,3280),(44.0,3290),(44.5,3300),
    (43.4,3560),(43.8,3540),(44.0,3500),(44.2,3530),(44.6,3510),(45.0,3480),(45.3,3470),(45.6,3450),(46.0,3440),(46.2,3430),
    (45.8,3490),(46.6,3480),(47.0,3470),(48.0,3460),(48.5,3455),(49.5,3450),(50.3,3450),(47.8,3390),(48.2,3390),(48.5,3380),
    (48.8,3370),(50.2,3360),(46.8,3400),(45.8,3370),(43.2,3530),(44.0,3440),
    (41.9,3245),(42.4,3262),(43.0,3238),(43.5,3255),(44.0,3232),(44.6,3258),(45.2,3240),(46.5,3262),(47.3,3235),
    (41.9,3195),(42.3,3212),(42.8,3188),(43.3,3205),(43.9,3180),(44.5,3210),(45.1,3192),(45.6,3215),(46.8,3185),(47.8,3205),
    (42.2,3148),(42.7,3165),(43.2,3140),(43.8,3158),(44.4,3135),(45.0,3162),(45.6,3142),(46.2,3168),(46.9,3138),(47.5,3155),
    (48.6,3145),(49.3,3160),
    (42.5,3095),(43.0,3112),(43.6,3088),(44.2,3105),(44.8,3082),(45.4,3110),(46.0,3092),(46.6,3115),(47.2,3085),(48.0,3108),
    (48.8,3090),(49.6,3112),(50.3,3095),
    (42.8,3045),(43.4,3062),(44.0,3038),(44.6,3055),(45.2,3032),(45.8,3060),(46.4,3042),(47.0,3065),(47.6,3035),(48.3,3058),
    (49.0,3040),(49.8,3062),(50.6,3045),
    (43.6,3005),(44.2,2992),(44.8,3012),(45.4,2985),(46.0,3008),(46.6,2990),(47.2,3015),(47.9,2995),(48.6,3010),(49.3,2988),
    (50.0,3005),(44.3,2968),(45.0,2975),(45.6,2960),(46.2,2972),(46.9,2965),(47.6,2978),(48.4,2970),(45.1,2948),(45.7,2952),
    (46.3,2945),(46.8,3040),(47.1,3050),(47.4,3045),(46.5,3060),(45.5,3070),(44.5,3080),(43.8,3120),(43.2,3175),(42.6,3230),
    (44.9,3020),
    (41.8,3230),(42.2,3180),(42.5,3120),(42.9,3080),(43.3,3030),(43.7,3060),(44.1,3010),(44.5,3040),(44.9,2990),(45.3,3030),
    (45.7,3000),(46.1,3030),(46.5,3010),(46.9,3020),(47.3,3070),(47.7,3060),(48.1,3040),(48.5,3075),(48.9,3070),(49.3,3020),
    (45.0,3110),(45.7,3120),(46.3,3080),(44.3,3170),(43.5,3220),(42.9,3280),(43.7,3320),(44.2,3350),(43.2,3360),(44.6,3230),
    (45.3,3200),(46.0,3220),(47.0,3120),(48.3,3120),(49.0,3130),(50.8,3080),(51.2,3160),(50.0,3040),
    (50.0,3360),(51.0,3280),(51.3,3260),(51.6,3290),(52.0,3370),(52.5,3340),(52.8,3360),(53.0,3310),(53.2,3380),(53.5,3320),
    (53.6,3370),(53.2,3230),(52.6,3220),(54.0,3270),(54.5,3300),(55.0,3270),(55.5,3280),(56.0,3280),(56.5,3320),(56.2,3190),
    (56.8,3190),(57.0,3300),(57.5,3320),(58.0,3330),(58.5,3340),(58.7,3230),(59.0,3360),(59.5,3370),(59.8,3380),(60.0,3300),
    (60.5,3270),(61.0,3300),(61.2,3330),(61.5,3340),(62.0,3320),(62.5,3340),(63.0,3370),(64.5,3400),(65.0,3420),(65.3,3405),
    (66.0,3420),(66.5,3440),(67.0,3430),(68.0,3460),(68.5,3460),(68.8,3450),(69.5,3470),(70.3,3490),
    (50.5,3120),(51.0,3140),(51.5,3100),(52.0,3150),(52.5,3130),(53.0,3120),(53.5,3150),(54.0,3180),(54.5,3200),(55.0,3220),
    (55.5,3230),(56.0,3250),(57.0,3240),(57.5,3260),(58.0,3250),(59.0,3280),(60.0,3260),(53.0,3250),(52.0,3200),(51.0,3200),
    (55.0,3150),(54.0,3140),(56.5,3270),(58.5,3300),(60.5,3330),
]
stockholm_pareto = [(40.6,3518),(40.7,3505),(40.75,3495),(40.8,3420),(40.9,3410),(41.0,3402),(40.95,3370),(41.05,3362),
    (41.15,3355),(41.2,3315),(41.35,3313),(41.5,3266),(41.6,3263),(41.6,3222),(41.7,3210),(41.75,3200),(41.85,3170),(42.0,3140),
    (42.05,3128),(42.1,3118),(42.35,3080),(42.45,3068),(42.65,3050),(42.7,3040),(42.8,3022),(43.25,2992),(43.3,2985),(43.7,2968),
    (44.2,2952),(44.7,2943),(45.2,2938)]

all_solutions = [abu_dhabi_all, athens_all, berlin_all, miami_all, phoenix_all, riyadh_all, singapore_all, stockholm_all]
pareto_fronts = [abu_dhabi_pareto, athens_pareto, berlin_pareto, miami_pareto, phoenix_pareto, riyadh_pareto, singapore_pareto, stockholm_pareto]

x_ranges = [[42.4, 125.9], [30.3, 72.3], [35.8, 61.5], [35.6, 99.7], [33.5, 107.1], [35.4, 111.8], [46.7, 117.4], [39.15, 71.75]]
y_ranges = [[1712, 4322], [1597, 3035], [2637, 3314], [2080, 3985], [1215, 3422], [975, 3807], [2726, 4497], [2901, 3724]]
x_dticks = [10, 5, 5, 10, 10, 10, 10, 5]
y_dticks = [500, 200, 100, 250, 250, 500, 200, 100]
legend_pos = ["tl", "tl", "br", "tl", "tl", "tl", "tl", "tr"]

# ---------------- LAYOUT ----------------
W, H = 1330, 1890
col_x = [(74, 648), (737, 1307)]
row_y = [(32, 415), (505, 888), (978, 1361), (1451, 1834)]
FONT = "DejaVu Sans"
BLUE = "#1f77b4"
ORANGE = "#ff7f0e"

fig = go.Figure()
layout = dict(width=W, height=H, margin=dict(l=0, r=0, t=0, b=0, pad=0),
              paper_bgcolor="white", plot_bgcolor="white",
              font=dict(family=FONT, size=13, color="#222"), annotations=[], showlegend=True)

for i, city in enumerate(cities):
    r, c = divmod(i, 2)
    n = i + 1
    xa = "x" if n == 1 else f"x{n}"
    ya = "y" if n == 1 else f"y{n}"
    lg = "legend" if n == 1 else f"legend{n}"
    ax_x0, ax_x1 = col_x[c]
    ax_y0, ax_y1 = row_y[r]
    if city == "Singapore":
        ax_x0 = 79
    xdom = [ax_x0 / W, ax_x1 / W]
    ydom = [1 - ax_y1 / H, 1 - ax_y0 / H]

    pts = all_solutions[i]
    pf = pareto_fronts[i]
    fig.add_trace(go.Scatter(x=[p[0] for p in pts], y=[p[1] for p in pts], mode="markers",
                             name="All solutions", xaxis=xa, yaxis=ya, legend=lg,
                             marker=dict(color=BLUE, size=6, opacity=0.55, line=dict(width=0))))
    fig.add_trace(go.Scatter(x=[p[0] for p in pf], y=[p[1] for p in pf], mode="markers",
                             name="Pareto front", xaxis=xa, yaxis=ya, legend=lg,
                             marker=dict(color=ORANGE, size=9, line=dict(width=0))))

    axis_common = dict(showgrid=False, zeroline=False, showline=True, mirror=True, automargin=False,
                       linecolor="#333", linewidth=1, ticks="outside", ticklen=4,
                       tickcolor="#333", tickfont=dict(family=FONT, size=12.5, color="#222"))
    layout["xaxis" if n == 1 else f"xaxis{n}"] = dict(
        axis_common, domain=xdom, anchor=ya, range=x_ranges[i], dtick=x_dticks[i], tick0=0,
        title=dict(text="Energy Use Intensity (kWh/m²·yr)", font=dict(family=FONT, size=13, color="#222"), standoff=4))
    layout["yaxis" if n == 1 else f"yaxis{n}"] = dict(
        axis_common, domain=ydom, anchor=xa, range=y_ranges[i], dtick=y_dticks[i], tick0=0,
        title=dict(text="Discomfort Hours (h/yr)", font=dict(family=FONT, size=13, color="#222"), standoff=6))

    layout["annotations"].append(dict(text=f"Pareto Front - {city}", xref="paper", yref="paper",
                                      x=(xdom[0] + xdom[1]) / 2, y=ydom[1], xanchor="center", yanchor="bottom",
                                      yshift=4, showarrow=False, font=dict(family=FONT, size=15.5, color="#111")))

    pos = legend_pos[i]
    leg = dict(bgcolor="rgba(255,255,255,0.8)", bordercolor="#d0d0d0", borderwidth=1,
               font=dict(family=FONT, size=12.5, color="#222"), itemsizing="trace",
               tracegroupgap=0, itemwidth=30)
    if pos == "tl":
        leg.update(x=(ax_x0 + 6) / W, y=1 - (ax_y0 + 5) / H, xanchor="left", yanchor="top")
    elif pos == "tr":
        leg.update(x=(ax_x1 - 5) / W, y=1 - (ax_y0 + 5) / H, xanchor="right", yanchor="top")
    else:
        leg.update(x=(ax_x1 - 5) / W, y=1 - (ax_y1 - 5) / H, xanchor="right", yanchor="bottom")
    layout[lg] = leg

fig.update_layout(**layout)
fig.write_html("out.html")
